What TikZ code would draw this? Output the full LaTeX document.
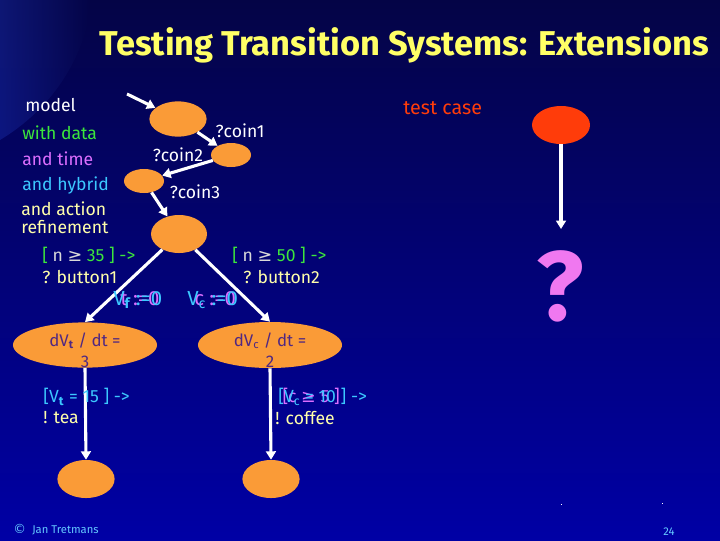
\documentclass[tikz,border=0pt]{standalone}
\usepackage{fontspec}
\setmainfont{Fira Sans}
\newfontfamily\dv{DejaVu Sans}
\usetikzlibrary{arrows.meta,shapes.geometric}
\definecolor{bgtop}{RGB}{4,4,70}
\definecolor{bgbot}{RGB}{0,0,165}
\definecolor{bglight}{RGB}{25,45,170}
\definecolor{stateor}{RGB}{250,155,55}
\definecolor{tcred}{RGB}{255,60,10}
\definecolor{ttl}{RGB}{255,255,102}
\definecolor{lgreen}{RGB}{60,230,60}
\definecolor{lviolet}{RGB}{220,110,255}
\definecolor{lcyan}{RGB}{60,200,255}
\definecolor{lyellow}{RGB}{255,255,170}
\definecolor{qmag}{RGB}{240,120,240}
\definecolor{dtxt}{RGB}{80,40,130}
\definecolor{foot}{RGB}{100,200,255}
\tikzset{
  state/.style={ellipse, fill=stateor, inner sep=0pt},
  trans/.style={draw=white, line width=2.2pt, -{Triangle[width=7pt,length=6pt]}},
  lbl/.style={font=\fontsize{12.5}{14}\selectfont, inner sep=0pt, anchor=west},
  clbl/.style={font=\fontsize{12.5}{14}\selectfont, inner sep=0pt},
  smallft/.style={font=\fontsize{8}{9}\selectfont, inner sep=0pt, text=foot},
}
\begin{document}
\begin{tikzpicture}[x=0.025cm,y=-0.025cm]
\useasboundingbox (0,0) rectangle (720,540);
% background
\shade[top color=bgtop, bottom color=bgbot] (0,0) rectangle (720,540);
\shade[left color=bglight, right color=bgtop, opacity=0.45]
  (0,0) -- (92,0) .. controls (85,60) and (50,110) .. (0,140) -- cycle;
% title
\node[font=\fontsize{24.5}{28}\selectfont\bfseries, text=ttl, inner sep=0pt] (title) at (404,45)
  {Testing Transition Systems: Extensions};
% left texts
\node[lbl, text=white] (tmodel) at (25,105) {model};
\node[lbl, text=lgreen] (tdata) at (22,133) {with data};
\node[lbl, text=lviolet] (ttime) at (22,159) {and time};
\node[lbl, text=lcyan] (thyb) at (22,186) {and hybrid};
\node[lbl, text=lyellow] (tact) at (21,209) {and action};
\node[lbl, text=lyellow] (tref) at (21,227) {refinement};
% states
\node[state, minimum width=1.43cm, minimum height=0.88cm] (s1) at (178,119) {};
\node[state, minimum width=1.0cm, minimum height=0.6cm] (s2) at (231,155) {};
\node[state, minimum width=1.0cm, minimum height=0.6cm] (s3) at (144,181) {};
\node[state, minimum width=1.4cm, minimum height=0.95cm] (s4) at (179,234) {};
\node[state, minimum width=3.6cm, minimum height=1.13cm] (s5) at (85,345) {};
\node[state, minimum width=3.6cm, minimum height=1.15cm] (s6) at (270,345) {};
\node[state, minimum width=1.43cm, minimum height=0.95cm] (s7) at (86,479) {};
\node[state, minimum width=1.43cm, minimum height=0.95cm] (s8) at (271,479) {};
\node[ellipse, fill=tcred, inner sep=0pt, minimum width=1.45cm, minimum height=0.95cm] (tc) at (561,125) {};
% state texts
\node[clbl, text=dtxt, align=center, font=\fontsize{12}{15}\selectfont] (f5) at (85,350)
  {dV\textsubscript{\bfseries t} / dt =\\3};
\node[clbl, text=dtxt, align=center, font=\fontsize{12}{15}\selectfont] (f6) at (270,350)
  {dV\textsubscript{c} / dt =\\2};
% transitions
\coordinate (init) at (127,94);
\draw[trans] (init) -- (s1);
\draw[trans] (s1) -- (s2);
\draw[trans] (s2) -- (s3);
\draw[trans] (s3) -- (s4);
\draw[trans] (s4) -- (s5.north);
\draw[trans] (s4) -- (s6.north);
\draw[trans] (s5.south) -- (s7.north);
\draw[trans] (s6.south) -- (s8.north);
\coordinate (tcend) at (561,229);
\draw[trans] (tc) -- (tcend);
% transition labels
\node[clbl, text=white] (lc1) at (240,131) {?coin1};
\node[clbl, text=white] (lc2) at (178,155) {?coin2};
\node[clbl, text=white] (lc3) at (195,192) {?coin3};
\node[lbl, text=lgreen] (g1) at (42,255) {[ \textcolor{white!85!black}{n {\dv≥}} 35 ] -{}>};
\node[lbl, text=lyellow] (b1) at (42,277) {? button1};
\node[lbl, text=lgreen] (g2) at (232,255) {[ \textcolor{white!85!black}{n {\dv≥}} 50 ] -{}>};
\node[lbl, text=lyellow] (b2) at (243,277) {? button2};
% resets (overlapping ghosts)
\node[lbl, font=\fontsize{14.5}{16}\selectfont] (r1) at (113,300)
  {\rlap{\hspace{5pt}\textcolor{lviolet}{t :=0}}\textcolor{lcyan}{V\textsubscript{\bfseries f} :=0}};
\node[lbl, font=\fontsize{14.5}{16}\selectfont] (r2) at (187,300)
  {\rlap{\hspace{5pt}\textcolor{lviolet}{c :=0}}\textcolor{lcyan}{V\textsubscript{c} :=0}};
% guards to final
\node[lbl, text=lcyan] (g3) at (43,397) {[V\textsubscript{\bfseries t} = 15 ] -{}>};
\node[lbl, text=lyellow] (o1) at (43,418) {! tea};
\node[lbl] (g4) at (278,397)
  {\rlap{\hspace{3pt}\textcolor{lviolet}{[c {\dv≥} 5 ]}}\textcolor{lcyan}{[V\textsubscript{c} = 10 ] -{}>}};
\node[lbl, text=lyellow] (o2) at (275,418) {! coffee};
% test case
\node[lbl, text=tcred, font=\fontsize{14}{16}\selectfont] (ttc) at (403,108) {test case};
\node[font=\fontsize{70}{76}\selectfont\bfseries, text=qmag, inner sep=0pt] (qm) at (560,286) {?};
% footer
\node[smallft, anchor=west] (copy) at (13,529) {\dv\fontsize{9}{10}\selectfont ©};
\node[smallft, anchor=west] (author) at (32,530) {Jan Tretmans};
\node[smallft] (page) at (669,532) {24};
\fill[white] (560.5,503.5) rectangle (562,505) coordinate (d1);
\fill[white] (661.5,503) rectangle (663,504) coordinate (d2);
\end{tikzpicture}
\end{document}
